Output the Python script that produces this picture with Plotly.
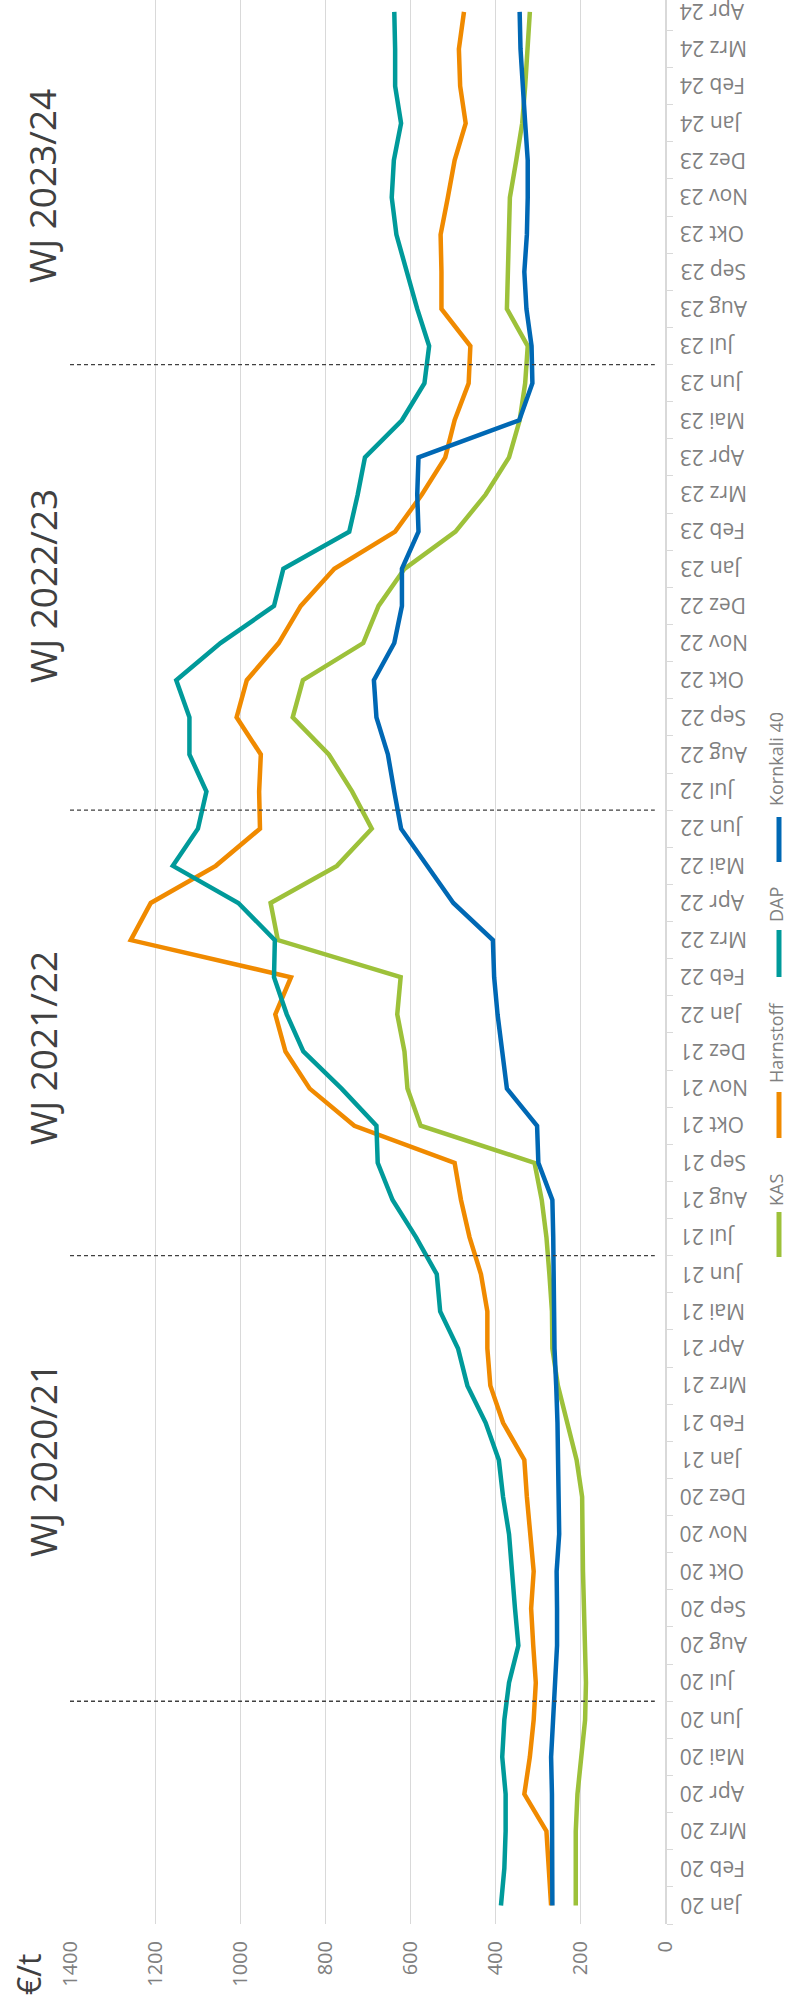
import plotly.graph_objects as go

months = [f"{m} {y}" for y in ["20", "21", "22", "23"] for m in
          ["Jan", "Feb", "Mrz", "Apr", "Mai", "Jun", "Jul", "Aug", "Sep", "Okt", "Nov", "Dez"]]
months += ["Jan 24", "Feb 24", "Mrz 24", "Apr 24"]

kas = [210, 210, 210, 206, 197, 188, 186, 189, 192, 193, 194, 195,
       208, 230, 252, 265, 266, 272, 279, 290, 307, 575, 606, 613,
       630, 622, 911, 928, 772, 690, 736, 791, 876, 852, 710, 674,
       613, 493, 422, 367, 342, 329, 323, 372, 370, 367, 365, 350,
       336, 329, 323, 318]
harnstoff = [268, 274, 279, 331, 318, 309, 304, 310, 315, 309, 318, 325,
             331, 381, 411, 418, 418, 433, 460, 480, 495, 731, 836, 893,
             917, 880, 1257, 1210, 1057, 953, 955, 951, 1008, 984, 909, 857,
             778, 635, 572, 517, 495, 462, 458, 526, 526, 528, 511, 495,
             469, 482, 485, 473]
dap = [386, 378, 375, 375, 383, 378, 367, 345, 353, 359, 367, 381,
       391, 422, 465, 487, 529, 537, 586, 641, 676, 679, 761, 851,
       890, 920, 918, 1004, 1158, 1099, 1079, 1119, 1119, 1150, 1046, 920,
       898, 743, 723, 706, 619, 566, 555, 583, 608, 632, 643, 638,
       621, 635, 635, 637]
kornkali = [265, 265, 266, 266, 268, 263, 257, 254, 254, 255, 249, 250,
            251, 253, 256, 260, 261, 261, 263, 265, 298, 301, 372, 383,
            394, 402, 405, 498, 559, 621, 637, 652, 679, 685, 637, 619,
            619, 580, 583, 580, 343, 312, 314, 326, 331, 325, 323, 323,
            329, 334, 340, 342]

series_names = ["KAS", "Harnstoff", "DAP", "Kornkali 40"]
series_values = [kas, harnstoff, dap, kornkali]
series_colors = ["#9DC13A", "#F08A00", "#009A9A", "#0068B4"]

value_ticks = [0, 200, 400, 600, 800, 1000, 1200, 1400]
season_last_months = ["Jun 20", "Jun 21", "Jun 22", "Jun 23"]
season_titles = ["WJ 2020/21", "WJ 2021/22", "WJ 2022/23", "WJ 2023/24"]

# layout geometry (pixels)
W_FIG, H_FIG = 789, 2011
L, R, T, B = 70, 124, 0, 87
PW = W_FIG - L - R
PH = H_FIG - T - B


def px(x):
    return (x - L) / PW


def py(y):
    return 1 - (y - T) / PH


fig = go.Figure()
for name, vals, col in zip(series_names, series_values, series_colors):
    fig.add_trace(go.Scatter(x=vals, y=months, mode="lines", name=name,
                             line=dict(color=col, width=4.5),
                             showlegend=False))

# season separators (dashed)
for m in season_last_months:
    idx = months.index(m) + 0.5
    fig.add_shape(type="line", xref="x", yref="y", x0=1400, x1=24, y0=idx, y1=idx,
                  line=dict(color="#404040", width=1.3, dash="4px,3px"))

# month tick labels (upside down, left-aligned next to the axis)
for i, m in enumerate(months):
    fig.add_annotation(text=m, xref="paper", yref="y", x=px(678), y=i,
                       textangle=180, showarrow=False, xanchor="left", yanchor="middle",
                       font=dict(size=21, color="#808080", family="Open Sans"))

# season titles
title_y = [1460, 1048, 586, 186]
for t, yy in zip(season_titles, title_y):
    fig.add_annotation(text=t, xref="paper", yref="paper", x=px(42), y=py(yy),
                       textangle=-90, showarrow=False, xanchor="center", yanchor="middle",
                       font=dict(size=37, color="#404040", family="Open Sans"))

# unit label
fig.add_annotation(text="€/t", xref="paper", yref="paper", x=px(28), y=py(1975),
                   textangle=-90, showarrow=False, xanchor="center", yanchor="middle",
                   font=dict(size=32, color="#404040", family="Open Sans"))

# rotated legend (reading bottom to top)
legend_items = [("KAS", 1212, 1257, 1190), ("Harnstoff", 1092, 1138, 1043),
                ("DAP", 930, 977, 905), ("Kornkali 40", 817, 862, 759)]
for (name, l0, l1, tc), col in zip(legend_items, series_colors):
    fig.add_shape(type="line", xref="paper", yref="paper", x0=px(779), x1=px(779),
                  y0=py(l0), y1=py(l1), line=dict(color=col, width=5))
    fig.add_annotation(text=name, xref="paper", yref="paper", x=px(776), y=py(tc),
                       textangle=-90, showarrow=False, xanchor="center", yanchor="middle",
                       font=dict(size=18, color="#808080", family="Open Sans"))

fig.update_layout(
    width=W_FIG, height=H_FIG,
    margin=dict(l=L, r=R, t=T, b=B, pad=0),
    paper_bgcolor="white", plot_bgcolor="white",
    font=dict(family="Open Sans", color="#808080"),
    showlegend=False,
)
fig.update_xaxes(range=[1400, 0], tickvals=value_ticks, showgrid=True,
                 gridcolor="#D9D9D9", gridwidth=1.2, zeroline=False, showline=False,
                 tickangle=-90, tickfont=dict(size=20, color="#808080"),
                 ticks="", ticklabelstandoff=12)
fig.update_yaxes(type="category", categoryorder="array", categoryarray=months,
                 range=[-0.5, 51.32], side="right", showgrid=False, zeroline=False,
                 showline=True, linecolor="#D9D9D9", linewidth=1.5,
                 ticks="outside", ticklen=6, tickcolor="#D9D9D9", tickson="boundaries",
                 showticklabels=False)

fig.write_html("out.html",
               config={"displayModeBar": False},
               post_script="document.body.style.margin='0';"
                           "document.body.style.overflow='hidden';")
